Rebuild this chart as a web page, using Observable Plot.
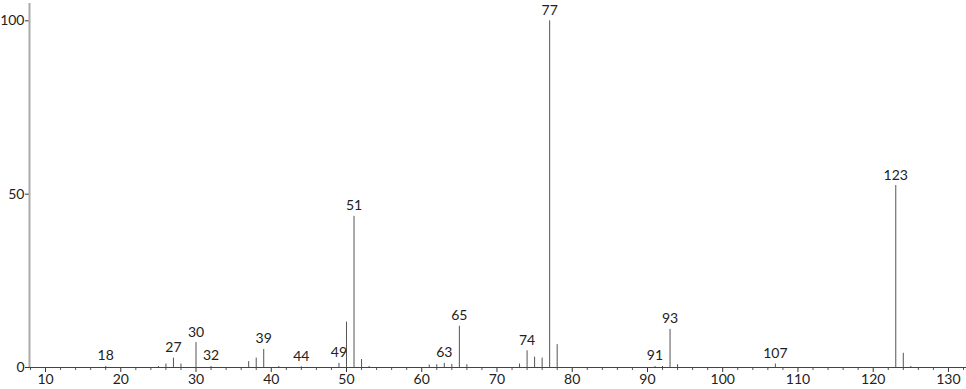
<!DOCTYPE html>
<html>
<head>
<meta charset="utf-8">
<script src="https://cdn.jsdelivr.net/npm/d3@7"></script>
<script src="https://cdn.jsdelivr.net/npm/@observablehq/plot@0.6"></script>
<style>
  html, body { margin: 0; padding: 0; background: #fff; }
  #chart svg { display: block; }
</style>
</head>
<body>
<div id="chart"></div>
<script>
const mz = [18, 25, 26, 27, 28, 30, 32, 37, 38, 39, 41, 44, 49, 50, 51, 52, 53, 61, 62, 63, 64, 65, 66, 73, 74, 75, 76, 77, 78, 91, 92, 93, 94, 107, 123, 124, 125];
const intensity = [0.3, 0.3, 1.0, 2.7, 1.0, 7.2, 0.3, 1.7, 2.7, 5.2, 0.3, 0.2, 1.2, 13.1, 43.6, 2.3, 0.3, 0.7, 0.8, 1.2, 0.9, 11.9, 0.8, 1.0, 4.8, 3.0, 2.7, 100, 6.6, 0.3, 0.3, 11.0, 0.8, 1.0, 52.5, 4.1, 0.3];
const labelled = [18, 27, 30, 32, 39, 44, 49, 51, 63, 65, 74, 77, 91, 93, 107, 123];
const majorTicks = [10, 20, 30, 40, 50, 60, 70, 80, 90, 100, 110, 120, 130];
const minorTicks = d3.range(8, 133, 2).filter(v => v % 10 !== 0);
const yTicks = [0, 50, 100];

const peaks = mz.map((m, i) => ({mz: m, v: intensity[i]}));
const labels = peaks.filter(d => labelled.includes(d.mz));

const font = "Lato, 'DejaVu Sans', sans-serif";

const chart = Plot.plot({
  width: 966,
  height: 389,
  marginLeft: 29,
  marginRight: 0,
  marginTop: 3,
  marginBottom: 22,
  style: {fontFamily: font, fontSize: "14px", color: "#222", background: "#fff"},
  x: {domain: [7.87, 132.4]},
  y: {domain: [0, 105]},
  marks: [
    Plot.axisX(minorTicks, {tickSize: 3, tickFormat: () => "", stroke: "#555", label: null}),
    Plot.axisX(majorTicks, {tickSize: 5, tickPadding: 2, fontSize: 14, stroke: "#333", fill: "#222", label: null}),
    Plot.axisY(yTicks, {tickSize: 4, tickPadding: 1, fontSize: 14, stroke: "#333", fill: "#222", label: null}),
    Plot.ruleY([0], {stroke: "#444", strokeWidth: 1}),
    Plot.ruleX([7.87], {stroke: "#aaa", strokeWidth: 2}),
    Plot.ruleX(peaks, {x: "mz", y1: 0, y2: "v", stroke: "#555", strokeWidth: 1}),
    Plot.text(labels, {x: "mz", y: "v", text: d => String(d.mz), lineAnchor: "bottom", dy: -6, fontSize: 14, fill: "#222"})
  ]
});
document.getElementById("chart").appendChild(chart);
</script>
</body>
</html>
